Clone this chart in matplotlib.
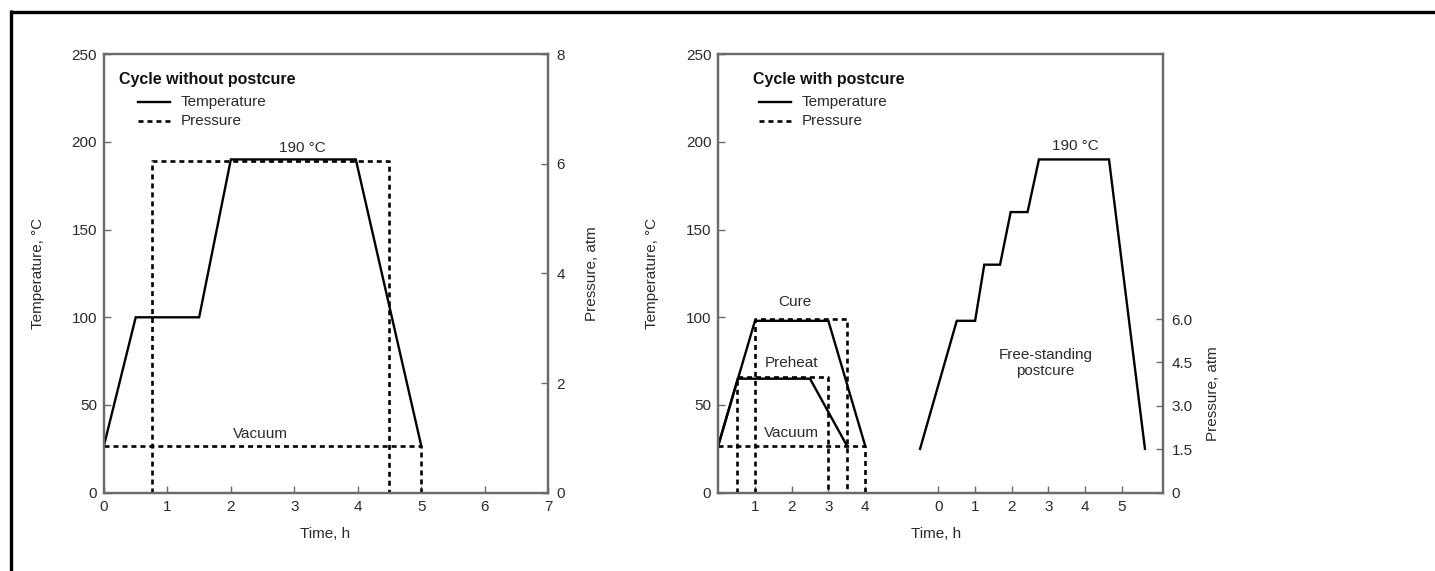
import matplotlib
matplotlib.use("Agg")
import matplotlib.pyplot as plt
from matplotlib.lines import Line2D

plt.rcParams['font.family'] = ['Liberation Sans', 'DejaVu Sans']

# ---- Cycle without postcure ----
np_time = [0, 0.5, 1.5, 2.0, 3.97, 5.0]          # h
np_temp = [27, 100, 100, 190, 190, 27]           # degC
np_press_time = [0.75, 0.75, 4.5, 4.5]           # h
np_press = [0, 6.05, 6.05, 0]                    # atm
np_vac_time = [0, 5.0, 5.0]
np_vac = [0.85, 0.85, 0]

# ---- Cycle with postcure: autoclave part ----
cure_time = [0, 1.0, 3.0, 4.0]
cure_temp = [27, 98, 98, 27]
preheat_time = [0, 0.53, 2.5, 3.5]
preheat_temp = [27, 65, 65, 27]
cure_press_time = [1.0, 1.0, 3.5, 3.5]
cure_press = [0, 6.0, 6.0, 0]
preheat_press_time = [0.5, 0.5, 3.0, 3.0]
preheat_press = [0, 4.0, 4.0, 0]
wp_vac_time = [0, 4.0, 4.0]
wp_vac = [1.6, 1.6, 0]

# ---- Free-standing postcure (own time origin) ----
post_time = [-0.5, 0.5, 1.0, 1.25, 1.68, 1.97, 2.43, 2.74, 4.65, 5.63]
post_temp = [25, 98, 98, 130, 130, 160, 160, 190, 190, 25]

# tick labels
temp_ticks = [0, 50, 100, 150, 200, 250]
np_time_ticks = [0, 1, 2, 3, 4, 5, 6, 7]
np_press_ticks = [0, 2, 4, 6, 8]
cure_time_ticks = [1, 2, 3, 4]
post_time_ticks = [0, 1, 2, 3, 4, 5]
wp_press_ticks = [0, 1.5, 3.0, 4.5, 6.0]
wp_press_labels = ['0', '1.5', '3.0', '4.5', '6.0']

# layout
W, H = 1435, 571
POST_OFFSET = 6.0          # axis position of postcure time zero
SPINE = '#6a6a6a'
TXT = '#2a2a2a'
LW_T = 1.7
DASH = dict(color='black', lw=1.9, linestyle=(0, (1.9, 1.5)))

fig = plt.figure(figsize=(W / 100, H / 100), dpi=100)
fig.patch.set_facecolor('white')

ax1 = fig.add_axes([104 / W, 1 - 492.7 / H, 444 / W, 438.5 / H])
ax2 = fig.add_axes([718.3 / W, 1 - 492.7 / H, 445 / W, 438.5 / H])
ax1r = ax1.twinx()
ax2r = ax2.twinx()


def style(ax):
    for s in ax.spines.values():
        s.set_color(SPINE)
        s.set_linewidth(1.6)
    ax.tick_params(direction='in', length=5, width=1.0, color=SPINE,
                   labelsize=11, labelcolor=TXT, pad=5)


for a in (ax1, ax2, ax1r, ax2r):
    style(a)
    a.set_ylim(0, 250)

# ---- left panel ----
ax1.set_xlim(0, 7)
ax1.set_xticks(np_time_ticks)
ax1.set_yticks(temp_ticks)
ax1r.set_ylim(0, 8)
ax1r.set_yticks(np_press_ticks)
ax1r.tick_params(axis='y', pad=6)

ax1.plot(np_time, np_temp, color='black', lw=LW_T, solid_joinstyle='miter')
ax1r.plot(np_press_time, np_press, **DASH)
ax1r.plot(np_vac_time, np_vac, **DASH)

ax1.text(3.13, 196.5, '190 °C', ha='center', va='center', fontsize=11, color=TXT)
ax1.text(2.47, 33.5, 'Vacuum', ha='center', va='center', fontsize=11, color=TXT)

# ---- right panel ----
ax2.set_xlim(0, 12.13)
ax2.set_xticks(cure_time_ticks + [t + POST_OFFSET for t in post_time_ticks])
ax2.set_xticklabels([str(t) for t in cure_time_ticks] + [str(t) for t in post_time_ticks])
ax2.set_yticks(temp_ticks)
ax2r.set_ylim(0, 15.15)
ax2r.set_yticks(wp_press_ticks)
ax2r.set_yticklabels(wp_press_labels)
ax2r.tick_params(axis='y', pad=6)

ax2.plot(cure_time, cure_temp, color='black', lw=LW_T, solid_joinstyle='miter')
ax2.plot(preheat_time, preheat_temp, color='black', lw=LW_T, solid_joinstyle='miter')
ax2.plot([t + POST_OFFSET for t in post_time], post_temp, color='black', lw=LW_T,
         solid_joinstyle='miter')
ax2r.plot(preheat_press_time, preheat_press, **DASH)
ax2r.plot(cure_press_time, cure_press, **DASH)
ax2r.plot(wp_vac_time, wp_vac, **DASH)

ax2.text(2.08, 109, 'Cure', ha='center', va='center', fontsize=11, color=TXT)
ax2.text(2.0, 74, 'Preheat', ha='center', va='center', fontsize=11, color=TXT)
ax2.text(2.0, 34, 'Vacuum', ha='center', va='center', fontsize=11, color=TXT)
ax2.text(8.92, 74, 'Free-standing\npostcure', ha='center', va='center', fontsize=11,
         color=TXT, linespacing=1.15)
ax2.text(9.72, 197.7, '190 °C', ha='center', va='center', fontsize=11, color=TXT)

# ---- axis labels ----
for ax, xl, xr, yr, xt in ((ax1, -0.148, 1.099, 0.5, 0.498),
                           (ax2, -0.149, 1.112, 0.225, 0.489)):
    ax.text(xl, 0.5, 'Temperature, °C', rotation=90, ha='center', va='center',
            transform=ax.transAxes, fontsize=11, color=TXT)
    ax.text(xr, yr, 'Pressure, atm', rotation=90, ha='center', va='center',
            transform=ax.transAxes, fontsize=11, color=TXT)
    ax.text(xt, -0.095, 'Time, h', ha='center', va='center',
            transform=ax.transAxes, fontsize=11, color=TXT)

# ---- key boxes ----
for ax, title, tx, lx0, lx1, txt_x in ((ax1, 'Cycle without postcure', 0.0345, 0.0773, 0.1486, 0.1727),
                                       (ax2, 'Cycle with postcure', 0.0787, 0.0921, 0.1627, 0.1874)):
    ax.text(tx, 0.9434, title, ha='left', va='center', transform=ax.transAxes,
            fontsize=11.5, fontweight='bold', color='#111111')
    ax.plot([lx0, lx1], [0.8917, 0.8917], color='black', lw=LW_T, transform=ax.transAxes,
            clip_on=False)
    ax.plot([lx0, lx1], [0.8477, 0.8477], transform=ax.transAxes, clip_on=False, **DASH)
    ax.text(txt_x, 0.8917, 'Temperature', ha='left', va='center', transform=ax.transAxes,
            fontsize=11, color=TXT)
    ax.text(txt_x, 0.8477, 'Pressure', ha='left', va='center', transform=ax.transAxes,
            fontsize=11, color=TXT)

# ---- outer frame (top and left rules) ----
fig.add_artist(Line2D([9.5 / W, 1], [1 - 11.5 / H] * 2, transform=fig.transFigure,
                      color='black', lw=2.4, solid_capstyle='butt'))
fig.add_artist(Line2D([11 / W] * 2, [0, 1 - 10 / H], transform=fig.transFigure,
                      color='black', lw=2.4, solid_capstyle='butt'))

fig.savefig('out.png', dpi=100, facecolor='white')
